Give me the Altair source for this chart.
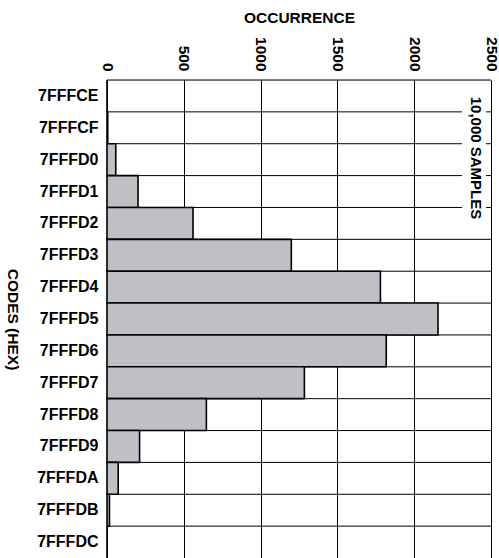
import altair as alt
import pandas as pd

codes = ["7FFFCE", "7FFFCF", "7FFFD0", "7FFFD1", "7FFFD2", "7FFFD3", "7FFFD4",
         "7FFFD5", "7FFFD6", "7FFFD7", "7FFFD8", "7FFFD9", "7FFFDA", "7FFFDB", "7FFFDC"]
counts = [0, 5, 57, 202, 560, 1200, 1780, 2155, 1818, 1285, 647, 212, 73, 16, 0]
x_ticks = [0, 500, 1000, 1500, 2000, 2500]
note = "10,000 SAMPLES"

df = pd.DataFrame({"code": codes, "count": counts})
note_df = pd.DataFrame({"label": [note]})

FONT = "Liberation Sans"
W, H = 384, 478

y_axis = alt.Axis(
    title="CODES (HEX)", titleAngle=90, titleFont=FONT, titleFontSize=15.5,
    titleFontWeight="bold", titleColor="black", titleX=-95, titleY=H / 2,
    titleAlign="center", titleBaseline="middle",
    labelFont=FONT, labelFontSize=16, labelFontWeight="bold", labelColor="black",
    labelPadding=9, ticks=False, domain=False, grid=False,
)
x_axis = alt.Axis(
    orient="top", values=x_ticks, format="d", title="OCCURRENCE", titleFont=FONT,
    titleFontSize=15.5, titleFontWeight="bold", titleColor="black",
    titleY=-58, titleBaseline="alphabetic",
    labelAngle=90, labelAlign="right", labelBaseline="middle",
    labelFont=FONT, labelFontSize=15.5, labelFontWeight="bold", labelColor="black",
    labelPadding=9, ticks=False, domain=False, grid=True,
    gridColor="black", gridWidth=1, gridOpacity=1,
)
y_scale = alt.Scale(paddingInner=0, paddingOuter=0)
x_scale = alt.Scale(domain=[0, 2500], nice=False)

rows = alt.Chart(df).mark_rule(color="black", strokeWidth=1).encode(
    y=alt.Y("code:N", sort=codes, scale=y_scale, axis=y_axis, bandPosition=0),
    x=alt.value(0), x2=alt.value(W),
)

bars = alt.Chart(df).mark_bar(
    fill="#bfc0c4", stroke="black", strokeWidth=1.6, cornerRadius=0
).encode(
    y=alt.Y("code:N", sort=codes, scale=y_scale, axis=y_axis),
    x=alt.X("count:Q", scale=x_scale, axis=x_axis),
)

box = alt.Chart(note_df).mark_rect(color="white").encode(
    x=alt.value(355), x2=alt.value(379), y=alt.value(12), y2=alt.value(146)
)
txt = alt.Chart(note_df).mark_text(
    angle=90, align="center", baseline="middle", font=FONT, fontSize=15,
    fontWeight="bold", color="black"
).encode(x=alt.value(369), y=alt.value(78), text="label:N")

chart = alt.layer(rows, bars, box, txt).properties(
    width=W, height=H,
    autosize=alt.AutoSizeParams(type="none"),
    padding={"left": 107, "top": 80, "right": 8, "bottom": 0},
).configure_view(stroke="black", strokeWidth=1.6).configure(background="white")

chart.save("out.html", embed_options={"renderer": "svg", "actions": False})
